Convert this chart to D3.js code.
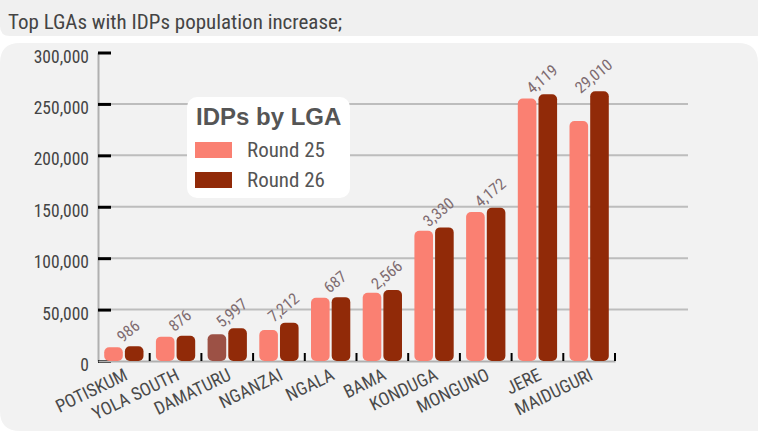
<!DOCTYPE html>
<html><head><meta charset="utf-8">
<script src="https://cdn.jsdelivr.net/npm/d3@7"></script>
<style>
html,body{margin:0;padding:0;background:#fff;}
svg{display:block;}
.cond{font-family:"Liberation Sans Narrow","Arial Narrow","Roboto Condensed","Liberation Sans",sans-serif;}
</style></head>
<body>
<svg id="chart" width="758" height="438"></svg>
<script>
const categories = ["POTISKUM","YOLA SOUTH","DAMATURU","NGANZAI","NGALA","BAMA","KONDUGA","MONGUNO","JERE","MAIDUGURI"];
const series = ["Round 25","Round 26"];
const round25 = [13300, 23700, 25900, 30100, 61400, 66400, 126600, 144800, 255200, 233300];
const round26 = [14286, 24576, 31897, 37312, 62087, 68966, 129930, 148972, 259319, 262310];
const increaseLabels = ["986","876","5,997","7,212","687","2,566","3,330","4,172","4,119","29,010"];
const yTicks = [0, 50000, 100000, 150000, 200000, 250000, 300000];
const title = "Top LGAs with IDPs population increase;";
const legendTitle = "IDPs by LGA";

const colors = {"Round 25":"#fa8072","Round 26":"#912a08"};
const highlight = {cat:"DAMATURU", series:"Round 25", color:"#9c5145"};

const svg = d3.select("#chart");
const W = 758, H = 438;

// title strip
svg.append("path")
  .attr("d", `M0,0 H${W} V36 H10 Q0,36 0,26 Z`)
  .attr("fill", "#f0f0f0");
svg.append("text").attr("class","cond")
  .attr("x", 8).attr("y", 29)
  .attr("font-size", 21).attr("fill", "#444")
  .text(title);

// main panel
const pT = 43, pB = 431, r = 20;
svg.append("path")
  .attr("d", `M0,${pT+r} Q0,${pT} ${r},${pT} H${W-r} Q${W},${pT} ${W},${pT+r} V${pB} H${r} Q0,${pB} 0,${pB-r} Z`)
  .attr("fill", "#f2f2f2");

const x0 = d3.scaleBand().domain(categories).range([98, 615]).paddingInner(0).paddingOuter(0);
const x1 = d3.scaleBand().domain(series).range([0, x0.bandwidth()]).paddingInner(0.1).paddingOuter(0.3);
const y = d3.scaleLinear().domain([0, 300000]).range([361, 52.5]);

// gridlines
svg.append("g").selectAll("line").data(yTicks.filter(t => t > 0 && t < 300000)).join("line")
  .attr("x1", 111).attr("x2", 688)
  .attr("y1", d => y(d)).attr("y2", d => y(d))
  .attr("stroke", "#bdbdbd").attr("stroke-width", 2);

// y axis
const yAxis = d3.axisLeft(y).tickValues(yTicks).tickFormat(d3.format(",")).tickSize(0).tickPadding(9);
const gy = svg.append("g").attr("transform", "translate(98,0)").call(yAxis);
gy.select(".domain").attr("stroke", "#b0b0b0").attr("stroke-width", 2);
gy.selectAll("text").attr("class","cond").attr("font-size", 17.5).attr("fill", "#444").attr("dy", "0.55em");
gy.selectAll(".tick").append("line")
  .attr("x1", 0).attr("x2", 13).attr("y1", 0).attr("y2", 0)
  .attr("stroke", "#000").attr("stroke-width", 3);

// x axis
const xAxis = d3.axisBottom(x0).tickSize(0).tickPadding(0);
const gx = svg.append("g").attr("transform", "translate(0,361)").call(xAxis);
gx.select(".domain").attr("stroke", "#b0b0b0").attr("stroke-width", 2);
gx.selectAll(".tick text")
  .attr("class","cond")
  .attr("font-size", 18).attr("fill", "#4a4a4a")
  .attr("text-anchor", "end")
  .attr("dy", 0)
  .attr("transform", "translate(5,18) rotate(-26)");
// boundary ticks
svg.append("g").selectAll("line").data(categories.slice(1).concat(["__end"])).join("line")
  .attr("x1", d => d === "__end" ? x0.range()[1] : x0(d))
  .attr("x2", d => d === "__end" ? x0.range()[1] : x0(d))
  .attr("y1", 353).attr("y2", 361)
  .attr("stroke", "#000").attr("stroke-width", 2);

// bars
const rows = categories.map((c, i) => ({cat: c, vals: [
  {series: "Round 25", value: round25[i]},
  {series: "Round 26", value: round26[i]}
], label: increaseLabels[i]}));

const groups = svg.append("g").selectAll("g").data(rows).join("g")
  .attr("transform", d => `translate(${x0(d.cat)},0)`);
groups.selectAll("rect").data(d => d.vals.map(v => ({...v, cat: d.cat}))).join("rect")
  .attr("x", d => x1(d.series))
  .attr("width", x1.bandwidth())
  .attr("y", d => y(d.value))
  .attr("height", d => y(0) - y(d.value))
  .attr("rx", 5).attr("ry", 5)
  .attr("fill", d => (d.cat === highlight.cat && d.series === highlight.series) ? highlight.color : colors[d.series]);

// increase labels
groups.append("text").attr("class","cond")
  .attr("transform", d => `translate(${x0.bandwidth()/2 + 8},${y(d3.max(d.vals, v => v.value)) - 11}) rotate(-40)`)
  .attr("text-anchor", "middle")
  .attr("font-size", 16).attr("fill", "#7e6b70")
  .text(d => d.label);

// legend
const lg = svg.append("g").attr("transform", "translate(187,97)");
lg.append("rect").attr("width", 163).attr("height", 101).attr("rx", 10).attr("fill", "#fff");
lg.append("text").attr("x", 9).attr("y", 28)
  .attr("font-family", "'Liberation Sans',Arial,sans-serif").attr("font-weight", "bold")
  .attr("font-size", 24).attr("fill", "#555").text(legendTitle);
const li = lg.selectAll("g.li").data(series).join("g").attr("class","li")
  .attr("transform", (d, i) => `translate(8,${45 + i * 30})`);
li.append("rect").attr("width", 37).attr("height", 16).attr("fill", d => colors[d]);
li.append("text").attr("class","cond").attr("x", 52).attr("y", 15)
  .attr("font-size", 21).attr("fill", "#555").text(d => d);
</script>
</body></html>
